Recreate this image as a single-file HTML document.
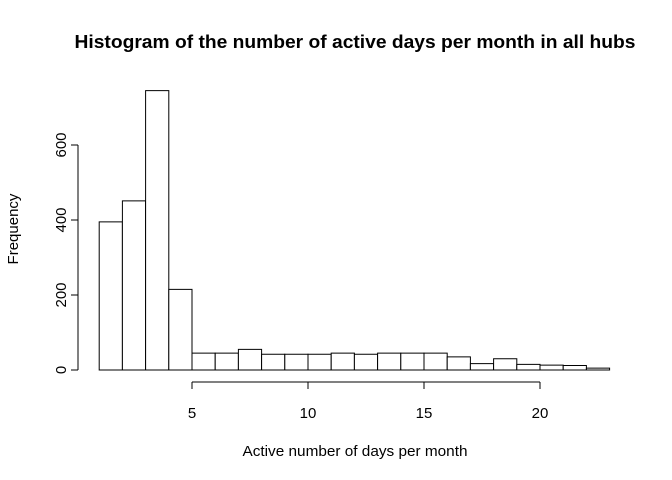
<!DOCTYPE html>
<html><head><meta charset="utf-8"><style>body{margin:0;background:#fff}svg{display:block;font-family:"Liberation Sans",Arial,sans-serif}</style></head>
<body>
<svg id="c" width="672" height="480">
<text x="355" y="48" text-anchor="middle" font-size="18" font-weight="bold" textLength="561" lengthAdjust="spacingAndGlyphs">Histogram of the number of active days per month in all hubs</text>
<text x="355" y="456" text-anchor="middle" font-size="15" textLength="225" lengthAdjust="spacingAndGlyphs">Active number of days per month</text>
<text transform="translate(18,229) rotate(-90)" text-anchor="middle" font-size="15">Frequency</text>
<g id="bars"></g><g id="xaxis"></g><g id="yaxis"></g>
</svg>
<script>
const binStarts=[1,2,3,4,5,6,7,8,9,10,11,12,13,14,15,16,17,18,19,20,21,22];
const counts=[395,451,745,215,45,45,55,42,42,42,45,42,45,45,45,35,17,30,15,13,12,5];
const xTicks=[5,10,15,20];
const yTicks=[0,200,400,600];
const NS="http://www.w3.org/2000/svg";
const X=v=>99.2+(v-1)*23.2, Y=v=>370-v*0.375;
function mk(t,a,p){const e=document.createElementNS(NS,t);for(const k in a)e.setAttribute(k,a[k]);p.appendChild(e);return e;}
const bars=document.getElementById('bars');
binStarts.forEach((s,i)=>{const r=mk('rect',{x:X(s),y:Y(counts[i]),width:X(s+1)-X(s),height:Y(0)-Y(counts[i]),fill:'#fff',stroke:'#000','stroke-width':1},bars);

});
const xa=document.getElementById('xaxis');
mk('line',{x1:X(xTicks[0]),x2:X(xTicks[xTicks.length-1]),y1:382,y2:382,stroke:'#000'},xa);
xTicks.forEach(t=>{mk('line',{x1:X(t),x2:X(t),y1:382,y2:389,stroke:'#000'},xa);
const l=mk('text',{x:X(t),y:418,'text-anchor':'middle','font-size':15},xa);l.textContent=t;

});
const ya=document.getElementById('yaxis');
mk('line',{x1:78,x2:78,y1:Y(yTicks[0]),y2:Y(yTicks[yTicks.length-1]),stroke:'#000'},ya);
yTicks.forEach(t=>{mk('line',{x1:71,x2:78,y1:Y(t),y2:Y(t),stroke:'#000'},ya);
const l=mk('text',{transform:`translate(66,${Y(t)}) rotate(-90)`,'text-anchor':'middle','font-size':15},ya);l.textContent=t;

});
</script>
</body></html>
